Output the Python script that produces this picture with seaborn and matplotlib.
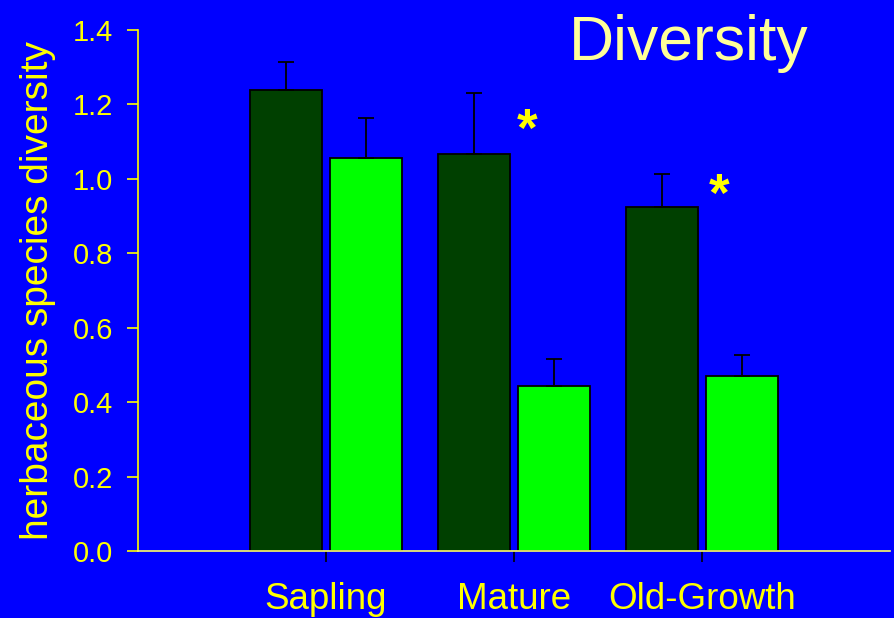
import numpy as np
import pandas as pd
import matplotlib
matplotlib.use('Agg')
import matplotlib.pyplot as plt
import seaborn as sns

# values
stands = ['Sapling', 'Mature', 'Old-Growth']
groups = ['control', 'treated']
diversity_control = [1.239, 1.067, 0.924]
diversity_treated = [1.056, 0.443, 0.470]
se_control = [0.075, 0.164, 0.089]
se_treated = [0.108, 0.073, 0.056]

# significance stars (x in category units, y in data units)
star_x = [1.07, 2.09]
star_y = [1.125, 0.95]

sns.set_style('ticks')
plt.rcParams['font.family'] = ['Liberation Sans', 'DejaVu Sans']

df = pd.DataFrame({
    'stand': stands * 2,
    'group': [groups[0]] * 3 + [groups[1]] * 3,
    'diversity': diversity_control + diversity_treated,
})

bg = '#0000FF'
fig = plt.figure(figsize=(8.94, 6.18), dpi=100, facecolor=bg)
ax = fig.add_axes([0.1544, 0.1084, 0.8411, 0.8431])
ax.set_facecolor(bg)

sns.barplot(data=df, x='stand', y='diversity', hue='group', order=stands,
            hue_order=groups, palette=['#004000', '#00FF00'], width=0.85,
            gap=0.1, edgecolor='black', linewidth=1.3, errorbar=None,
            legend=False, saturation=1, ax=ax)

# one-sided error bars
for cont, err in zip(ax.containers, [se_control, se_treated]):
    xs = [p.get_x() + p.get_width() / 2 for p in cont.patches]
    hs = [p.get_height() for p in cont.patches]
    ax.errorbar(xs, hs, yerr=[np.zeros(len(err)), err], fmt='none',
                ecolor='black', elinewidth=1.3, capsize=5.8, capthick=1.3)

for sx, sy in zip(star_x, star_y):
    ax.text(sx, sy, '*', color='#FFFF00', fontsize=38, fontweight='bold',
            ha='center', va='center')

ax.set_xlim(-1, 3)
ax.set_ylim(0, 1.4)
ax.set_yticks(np.arange(0, 1.41, 0.2))
ax.set_yticklabels([f'{v:.1f}' for v in np.arange(0, 1.41, 0.2)])

sns.despine(ax=ax)
ax.spines['left'].set_color('#FFFF00')
ax.spines['bottom'].set_color('#FFFF66')
ax.spines['left'].set_linewidth(1.2)
ax.spines['bottom'].set_linewidth(1.2)

ax.tick_params(axis='y', colors='#FFFF00', labelsize=21, length=8, width=1.2, pad=10)
ax.tick_params(axis='x', color='black', labelcolor='#FFFF00', labelsize=26.5,
               length=8, width=1.2, pad=14)

ax.set_xlabel('')
ax.set_ylabel('herbaceous species diversity', color='#FFFF00', fontsize=28,
              labelpad=12)

fig.text(0.77, 0.903, 'Diversity', color='#FFFF99', fontsize=45,
         ha='center', va='baseline')

fig.savefig('out.png', dpi=100, facecolor=bg)
